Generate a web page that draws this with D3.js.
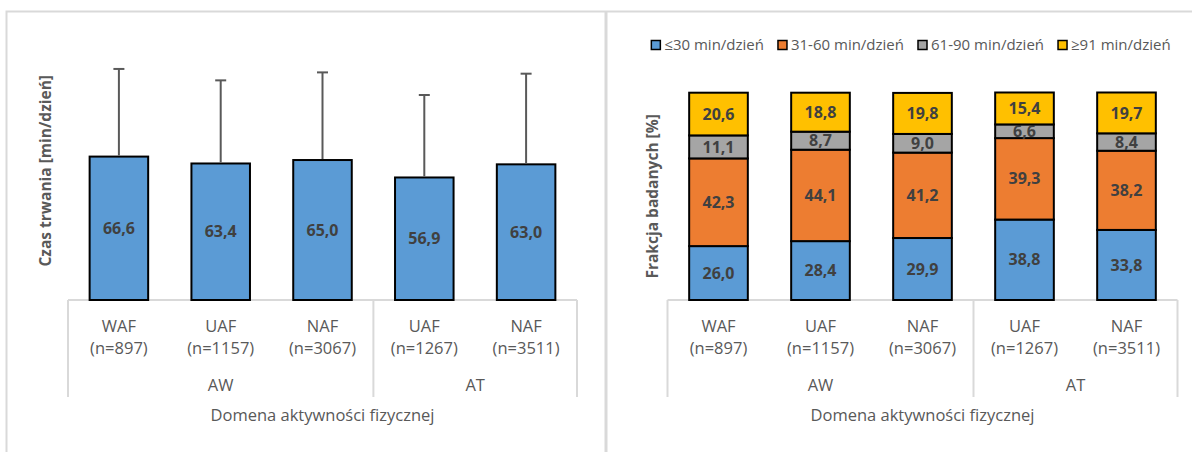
<!DOCTYPE html>
<html>
<head>
<meta charset="utf-8">
<script src="https://cdn.jsdelivr.net/npm/d3@7"></script>
<style>
  body { margin: 0; background: #fff; }
  svg { display: block; font-family: "Open Sans", sans-serif; }
</style>
</head>
<body>
<div id="content"></div>
<script>
// Categories.
var categories = ["WAF", "UAF", "NAF", "UAF", "NAF"];
var sampleSizes = ["(n=897)", "(n=1157)", "(n=3067)", "(n=1267)", "(n=3511)"];
var groups = ["AW", "AW", "AW", "AT", "AT"];

// Left chart: mean duration and SD.
var meanDuration = [66.6, 63.4, 65.0, 56.9, 63.0];
var sdDuration = [40.7, 38.6, 40.7, 38.3, 42.1];

// Right chart: share of respondents per duration class.
var seriesNames = ["≤30 min/dzień", "31-60 min/dzień", "61-90 min/dzień", "≥91 min/dzień"];
var shareLe30 = [26.0, 28.4, 29.9, 38.8, 33.8];
var share31to60 = [42.3, 44.1, 41.2, 39.3, 38.2];
var share61to90 = [11.1, 8.7, 9.0, 6.6, 8.4];
var shareGe91 = [20.6, 18.8, 19.8, 15.4, 19.7];
var seriesColors = ["#5B9BD5", "#ED7D31", "#A5A5A5", "#FFC000"];

var labelColor = "#595959";
var valueColor = "#404040";
var gridColor = "#d9d9d9";

var svg = d3.select('#content')
              .append('svg')
              .attr('width', 1195)
              .attr('height', 452);

// Panel frames.
svg.append('path')
    .attr('d', 'M6.5,460 V11.5 H1192')
    .attr('fill', 'none')
    .attr('stroke', gridColor)
    .attr('stroke-width', 2);
svg.append('line')
    .attr('x1', 606).attr('x2', 606)
    .attr('y1', 11).attr('y2', 460)
    .attr('stroke', gridColor)
    .attr('stroke-width', 3);

var baseY = 300;

// Two-level category axis (categories, n, group), plus title.
function categoryAxis(x) {
  var x0 = x.range()[0], x1 = x.range()[1];
  var divider = x0 + 3 * x.step();
  var g = svg.append('g');
  g.append('line')
      .attr('x1', x0).attr('x2', x1)
      .attr('y1', baseY).attr('y2', baseY)
      .attr('stroke', gridColor).attr('stroke-width', 2);
  [x0, divider, x1].forEach(function(d) {
    g.append('line')
        .attr('x1', d).attr('x2', d)
        .attr('y1', baseY).attr('y2', 397)
        .attr('stroke', gridColor).attr('stroke-width', 2);
  });
  var cx = function(i) { return x(i) + x.bandwidth() / 2; };
  g.selectAll('.cat').data(categories).enter().append('text')
      .attr('x', function(d, i) { return cx(i); })
      .attr('y', 332)
      .attr('text-anchor', 'middle')
      .attr('fill', labelColor)
      .style('font-size', '16.5px')
      .text(function(d) { return d; });
  g.selectAll('.n').data(sampleSizes).enter().append('text')
      .attr('x', function(d, i) { return cx(i); })
      .attr('y', 354)
      .attr('text-anchor', 'middle')
      .attr('fill', labelColor)
      .style('font-size', '16.5px')
      .text(function(d) { return d; });
  var groupPos = [{name : groups[0], x : (x0 + divider) / 2},
                  {name : groups[3], x : (divider + x1) / 2}];
  g.selectAll('.grp').data(groupPos).enter().append('text')
      .attr('x', function(d) { return d.x; })
      .attr('y', 390.5)
      .attr('text-anchor', 'middle')
      .attr('fill', labelColor)
      .style('font-size', '16.5px')
      .text(function(d) { return d.name; });
  g.append('text')
      .attr('x', (x0 + x1) / 2)
      .attr('y', 420.5)
      .attr('text-anchor', 'middle')
      .attr('fill', labelColor)
      .style('font-size', '16.5px')
      .text('Domena aktywności fizycznej');
}

function yTitle(x, y, label) {
  svg.append('text')
      .attr('transform', 'translate(' + x + ',' + y + ') rotate(-90)')
      .attr('dy', '0.35em')
      .attr('text-anchor', 'middle')
      .attr('fill', labelColor)
      .style('font-size', '15.5px')
      .style('font-weight', 'bold')
      .text(label);
}

// ---------- Left chart ----------
var xLeft = d3.scaleBand()
                .domain(d3.range(categories.length))
                .range([ 68, 577 ])
                .paddingInner(0.425)
                .paddingOuter(0.2125);
var yLeft = d3.scaleLinear().domain([ 0, 120 ]).range([ baseY, 41.6 ]);

categoryAxis(xLeft);
yTitle(46, (yLeft(0) + yLeft(120)) / 2, 'Czas trwania [min/dzień]');

var left = svg.append('g');
left.selectAll('.bar').data(meanDuration).enter().append('rect')
    .attr('x', function(d, i) { return xLeft(i); })
    .attr('y', function(d) { return yLeft(d); })
    .attr('width', xLeft.bandwidth())
    .attr('height', function(d) { return yLeft(0) - yLeft(d); })
    .attr('fill', seriesColors[0])
    .attr('stroke', '#000')
    .attr('stroke-width', 2);

// Error bars (+SD).
var err = left.selectAll('.err').data(meanDuration).enter().append('g')
    .attr('stroke', '#595959')
    .attr('stroke-width', 2);
err.append('line')
    .attr('x1', function(d, i) { return xLeft(i) + xLeft.bandwidth() / 2; })
    .attr('x2', function(d, i) { return xLeft(i) + xLeft.bandwidth() / 2; })
    .attr('y1', function(d) { return yLeft(d) - 1; })
    .attr('y2', function(d, i) { return yLeft(d + sdDuration[i]); });
err.append('line')
    .attr('x1', function(d, i) { return xLeft(i) + xLeft.bandwidth() / 2 - 5.5; })
    .attr('x2', function(d, i) { return xLeft(i) + xLeft.bandwidth() / 2 + 5.5; })
    .attr('y1', function(d, i) { return yLeft(d + sdDuration[i]); })
    .attr('y2', function(d, i) { return yLeft(d + sdDuration[i]); });

left.selectAll('.val').data(meanDuration).enter().append('text')
    .attr('x', function(d, i) { return xLeft(i) + xLeft.bandwidth() / 2; })
    .attr('y', function(d) { return (yLeft(d) + yLeft(0)) / 2; })
    .attr('dy', '0.35em')
    .attr('text-anchor', 'middle')
    .attr('fill', valueColor)
    .style('font-size', '16px')
    .style('font-weight', 'bold')
    .text(function(d) { return d.toFixed(1).replace('.', ','); });

// ---------- Right chart ----------
var xRight = d3.scaleBand()
                 .domain(d3.range(categories.length))
                 .range([ 667.5, 1177.5 ])
                 .paddingInner(0.425)
                 .paddingOuter(0.2125);
var yRight = d3.scaleLinear().domain([ 0, 100 ]).range([ baseY, 92.7 ]);

categoryAxis(xRight);
yTitle(653, (yRight(0) + yRight(100)) / 2, 'Frakcja badanych [%]');

var rows = categories.map(function(c, i) {
  return {s0 : shareLe30[i], s1 : share31to60[i], s2 : share61to90[i], s3 : shareGe91[i]};
});
var stacked = d3.stack().keys([ 's0', 's1', 's2', 's3' ])(rows);

var layer = svg.selectAll('.layer').data(stacked).enter().append('g')
    .attr('fill', function(d, k) { return seriesColors[k]; });
layer.selectAll('rect').data(function(d) { return d; }).enter().append('rect')
    .attr('x', function(d, i) { return xRight(i); })
    .attr('y', function(d) { return yRight(d[1]); })
    .attr('width', xRight.bandwidth())
    .attr('height', function(d) { return yRight(d[0]) - yRight(d[1]); })
    .attr('stroke', '#000')
    .attr('stroke-width', 2);
layer.selectAll('text').data(function(d) { return d; }).enter().append('text')
    .attr('x', function(d, i) { return xRight(i) + xRight.bandwidth() / 2; })
    .attr('y', function(d) { return (yRight(d[0]) + yRight(d[1])) / 2; })
    .attr('dy', '0.35em')
    .attr('text-anchor', 'middle')
    .attr('fill', valueColor)
    .style('font-size', '16px')
    .style('font-weight', 'bold')
    .text(function(d) { return (d[1] - d[0]).toFixed(1).replace('.', ','); });

// Legend.
var legend = svg.append('g');
var items = legend.selectAll('.item').data(seriesNames).enter().append('g');
items.append('rect')
    .attr('width', 9).attr('height', 9)
    .attr('y', 40.5)
    .attr('fill', function(d, k) { return seriesColors[k]; })
    .attr('stroke', '#000')
    .attr('stroke-width', 1.5);
items.append('text')
    .attr('x', 13)
    .attr('y', 50)
    .attr('fill', labelColor)
    .style('font-size', '15px')
    .text(function(d) { return d; });
var offs = [], pos = 0;
items.each(function() {
  offs.push(pos);
  pos += 13 + d3.select(this).select('text').node().getComputedTextLength() + 14;
});
var legendStart = 911 - (pos - 14) / 2;
items.attr('transform', function(d, k) { return 'translate(' + (legendStart + offs[k]) + ',0)'; });
</script>
</body>
</html>
